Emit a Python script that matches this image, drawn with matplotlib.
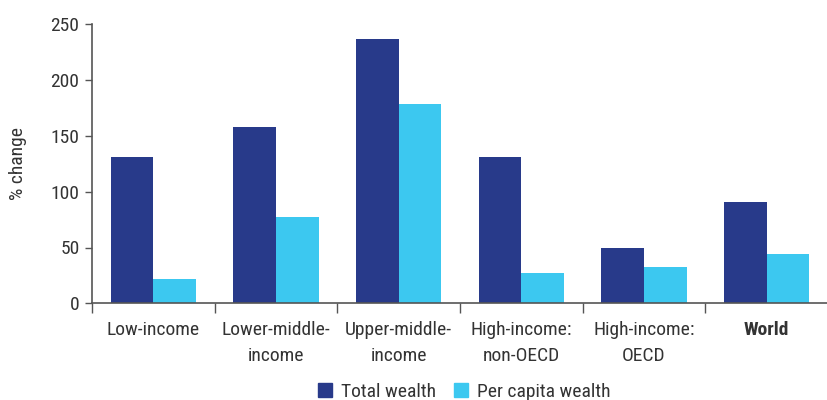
import matplotlib
matplotlib.use("Agg")
import matplotlib.pyplot as plt
from matplotlib import font_manager
import numpy as np
from matplotlib.patches import Patch

categories = ["Low-income", "Lower-middle-\nincome", "Upper-middle-\nincome",
              "High-income:\nnon-OECD", "High-income:\nOECD", "World"]
total_wealth = [131, 158, 236.5, 131, 49.5, 90.8]
per_capita_wealth = [21.8, 77.3, 179, 27, 32.4, 44]
series_names = ["Total wealth", "Per capita wealth"]
yticks = [0, 50, 100, 150, 200, 250]

available = {f.name for f in font_manager.fontManager.ttflist}
narrow = None
for cand in ["Liberation Sans Narrow", "Roboto Condensed", "Open Sans Condensed",
             "DejaVu Sans Condensed", "Noto Sans Condensed"]:
    if cand in available:
        narrow = cand
        break
if narrow:
    plt.rcParams['font.family'] = [narrow, 'Liberation Sans', 'DejaVu Sans']
    fs = 14
else:
    plt.rcParams['font.family'] = ['Liberation Sans', 'DejaVu Sans']
    fs = 12.5

dark = "#283A8A"
light = "#3CC8F0"
txt = "#333333"
spine = "#555555"

fig = plt.figure(figsize=(8.28, 4.0), dpi=100)
ax = fig.add_axes([92/828, (400-303.3)/400, 1 - 92/828, (303.3-24.3)/400])

x = np.arange(len(categories))
w = 43/124
ax.bar(x - w/2, total_wealth, width=w, color=dark, label=series_names[0], zorder=2)
ax.bar(x + w/2, per_capita_wealth, width=w, color=light, label=series_names[1], zorder=2)

ax.set_xlim(-0.5, 5.5 - 8/124)
ax.set_ylim(0, 250)
ax.set_yticks(yticks)
ax.set_yticklabels([str(v) for v in yticks], fontsize=fs, color=txt)

ax.set_xticks(np.arange(len(categories)+1) - 0.5)
ax.set_xticklabels([])
ax.set_xticks(x, minor=True)
ax.set_xticklabels(categories, minor=True, fontsize=fs, color=txt, linespacing=1.55)
for lab in ax.get_xticklabels(minor=True):
    if lab.get_text() == "World":
        lab.set_fontweight("bold")
ax.tick_params(axis='x', which='major', length=7, color=spine, width=1)
ax.tick_params(axis='x', which='minor', length=0, pad=13)
ax.tick_params(axis='y', length=5, color=spine, width=1, pad=4)

for s in ["top", "right"]:
    ax.spines[s].set_visible(False)
for s in ["left", "bottom"]:
    ax.spines[s].set_color(spine)
    ax.spines[s].set_linewidth(1.2)

ax.set_ylabel("% change", fontsize=fs, color=txt)
ax.yaxis.set_label_coords(-(92-27)/736, 0.5)

handles = [Patch(color=dark), Patch(color=light)]
fig.legend(handles, series_names, loc='center', bbox_to_anchor=(0.561, 0.02),
           ncol=2, frameon=False, fontsize=fs, handlelength=0.72, handleheight=0.72,
           handletextpad=0.46, columnspacing=0.93, labelcolor=txt)

fig.savefig("out.png", dpi=100)
